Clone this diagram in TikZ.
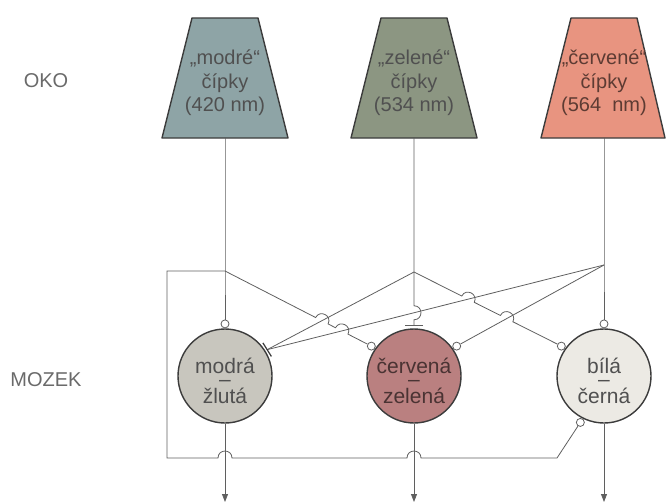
\documentclass[tikz,border=0pt]{standalone}
\usepackage{fontspec}
\setmainfont{Liberation Sans}
\usetikzlibrary{arrows.meta, calc, intersections}
\definecolor{conblue}{RGB}{142,164,166}
\definecolor{congreen}{RGB}{140,150,130}
\definecolor{conred}{RGB}{232,148,128}
\definecolor{cellyellow}{RGB}{200,198,190}
\definecolor{cellred}{RGB}{186,128,128}
\definecolor{cellwhite}{RGB}{236,234,228}
\definecolor{wiregray}{RGB}{95,95,95}
\definecolor{edgegray}{RGB}{60,60,60}
\definecolor{textgray}{RGB}{80,80,80}
\setlength{\lineskiplimit}{-30pt}
\tikzset{
  cone/.style={draw=edgegray, line width=1.4pt, line join=round},
  conetext/.style={inner sep=0pt, align=center, font=\fontsize{20}{23.5}\selectfont, text=textgray},
  cell/.style={circle, draw=edgegray, line width=1.4pt, minimum size=94pt, inner sep=0pt},
  celltext/.style={inner sep=0pt, align=center, font=\fontsize{21}{15}\selectfont, text=textgray},
  exc/.style={circle, draw=wiregray, fill=white, line width=0.8pt, minimum size=8pt, inner sep=0pt},
  wire/.style={draw=wiregray, line width=0.8pt},
  hop/.style={bend left=90, looseness=1.7},
  side/.style={font=\fontsize{20}{24}\selectfont, text=textgray!85}
}

\begin{document}
\begin{tikzpicture}[x=1pt, y=-1pt]
    \useasboundingbox (0,0) rectangle (666,503);

    % levels
    \node[side] (oko) at (46,81) {OKO};
    \node[side] (mozek) at (46,380) {MOZEK};

    % cones in the eye
    \fill[cone, fill=conblue] (192,18) -- (258,18) -- (288,138) -- (162,138) -- cycle;
    \fill[cone, fill=congreen] (381,18) -- (447,18) -- (477,138) -- (351,138) -- cycle;
    \fill[cone, fill=conred] (571,18) -- (637,18) -- (665,138) -- (541,138) -- cycle;
    \node[conetext] (blue) at (225,83) {„modré“\\čípky\\(420 nm)};
    \node[conetext] (green) at (414,83) {„zelené“\\čípky\\(534 nm)};
    \node[conetext, text=conred!40!black] (red) at (604,83) {„červené“\\čípky\\(564~~nm)};
    \coordinate (blueb) at (225,138);
    \coordinate (greenb) at (414,138);
    \coordinate (redb) at (604,138);

    % opponent cells in the brain
    \node[cell, fill=cellyellow] (modra) at (225,376) {};
    \node[cell, fill=cellred] (cervena) at (414,376) {};
    \node[cell, fill=cellwhite] (bila) at (604,376) {};
    \node[celltext] (modrat) at (225,381) {modrá\\\raisebox{2pt}{–}\\žlutá};
    \node[celltext, text=cellred!40!black] (cervenat) at (414,381) {červená\\\raisebox{2pt}{–}\\zelená};
    \node[celltext] (bilat) at (604,381) {bílá\\\raisebox{2pt}{–}\\černá};

    % synapses
    \node[exc, anchor=south] (m1) at (modra.north) {};
    \node[exc, anchor=325] (c2) at (cervena.145) {};
    \node[exc, anchor=215] (c3) at (cervena.35) {};
    \node[exc, anchor=south] (b1) at (bila.north) {};
    \node[exc, anchor=325] (b2) at (bila.145) {};
    \node[exc, anchor=63] (b3) at (bila.243) {};

    % branch points
    \coordinate (jb) at (225,271);
    \coordinate (jg) at (414,272);
    \coordinate (jr) at (604,265);
    \coordinate (mb) at ([shift={(32:2pt)}]modra.32);
    \coordinate (cb) at ([yshift=2pt]cervena.north);
    \coordinate (lt) at (167,271);
    \coordinate (lb) at (167,458);
    \coordinate (rb) at (557,458);
    \coordinate (om) at (225,502);
    \coordinate (oc) at (414,502);
    \coordinate (ob) at (604,502);

    % crossings
    \path[name path=gm] (jg) -- (mb);
    \path[name path=rm] (jr) -- (mb);
    \path[name path=rc] (jr) -- (c3);
    \path[name path=bc] (jb) -- (c2);
    \path[name path=gv] (jg) -- (cb);
    \path[name path=gb] (jg) -- (b2);
    \path[name intersections={of=bc and gm, by=x1}];
    \path[name intersections={of=bc and rm, by=x2}];
    \path[name intersections={of=gv and rm, by=x3}];
    \path[name intersections={of=gb and rm, by=x4}];
    \path[name intersections={of=gb and rc, by=x5}];

    % wires
    \draw[wire] (blueb) -- (jb) -- (m1);
    \draw[wire] (redb) -- (jr) -- (b1);
    \draw[wire] (jg) -- (mb);
    \draw[wire] (jr) -- (mb);
    \draw[wire] (jr) -- (c3);
    \draw[line width=1.2pt, draw=edgegray] ($(mb)+(122:8pt)$) -- ($(mb)+(302:8pt)$);
    \draw[wire, -{Bar[width=18pt, line width=1.2pt]}] (greenb) -- (jg) -- ($(x3)!7pt!(jg)$) to[hop] ($(x3)!7pt!(cb)$) -- (cb);
    \draw[wire] (jb) -- ($(x1)!7pt!(jb)$) to[hop] ($(x1)!7pt!(c2)$) -- ($(x2)!7pt!(jb)$) to[hop] ($(x2)!7pt!(c2)$) -- (c2);
    \draw[wire] (jg) -- ($(x4)!7pt!(jg)$) to[hop] ($(x4)!7pt!(b2)$) -- ($(x5)!7pt!(jg)$) to[hop] ($(x5)!7pt!(b2)$) -- (b2);
    \draw[wire] (jb) -- (lt) -- (lb) -- ($(lb -| modra.south)+(-7,0)$) to[hop] ($(lb -| modra.south)+(7,0)$)
        -- ($(lb -| cervena.south)+(-7,0)$) to[hop] ($(lb -| cervena.south)+(7,0)$) -- (rb) -- (b3);

    % outputs
    \draw[wire, -{Triangle[width=6pt, length=8pt]}] (modra) -- (om);
    \draw[wire, -{Triangle[width=6pt, length=8pt]}] (cervena) -- (oc);
    \draw[wire, -{Triangle[width=6pt, length=8pt]}] (bila) -- (ob);
\end{tikzpicture}
\end{document}
